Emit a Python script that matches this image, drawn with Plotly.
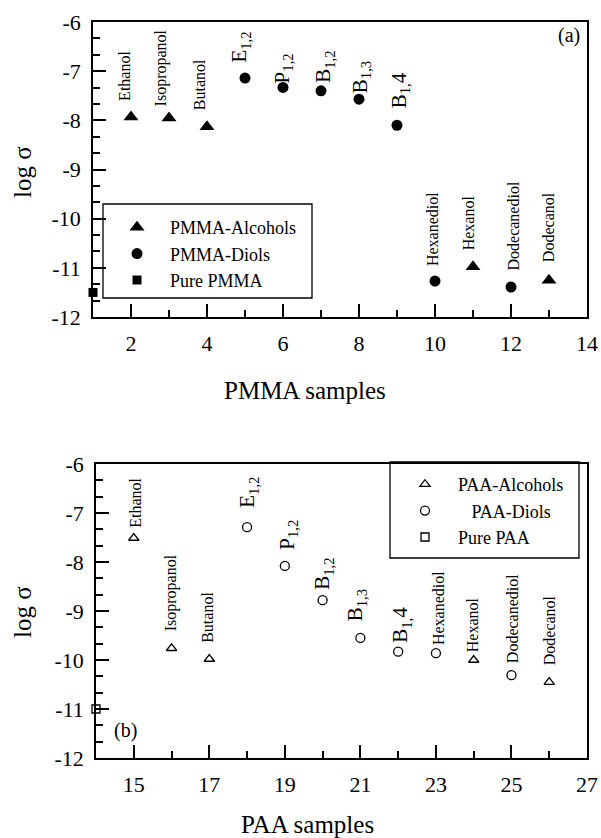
import plotly.graph_objects as go

# ---------------- data ----------------
PMMA_ALC_X = [2, 3, 4, 11, 13]
PMMA_ALC_Y = [-7.93, -7.95, -8.13, -10.98, -11.25]
PMMA_DIOL_X = [5, 6, 7, 8, 9, 10, 12]
PMMA_DIOL_Y = [-7.14, -7.33, -7.40, -7.57, -8.10, -11.27, -11.39]
PURE_PMMA_X = [1]
PURE_PMMA_Y = [-11.5]

PAA_ALC_X = [15, 16, 17, 24, 26]
PAA_ALC_Y = [-7.51, -9.76, -9.98, -10.0, -10.45]
PAA_DIOL_X = [18, 19, 20, 21, 22, 23, 25]
PAA_DIOL_Y = [-7.29, -8.08, -8.78, -9.55, -9.83, -9.86, -10.31]
PURE_PAA_X = [14]
PURE_PAA_Y = [-11.0]

PMMA_LABEL_X = [2, 3, 4, 5, 6, 7, 8, 9, 10, 11, 12, 13]
PAA_LABEL_X = [15, 16, 17, 18, 19, 20, 21, 22, 23, 24, 25, 26]
SAMPLE_NAMES = ["Ethanol", "Isopropanol", "Butanol", "E<sub>1,2</sub>", "P<sub>1,2</sub>",
                "B<sub>1,2</sub>", "B<sub>1,3</sub>", "B<sub>1,</sub>4", "Hexanediol",
                "Hexanol", "Dodecanediol", "Dodecanol"]

Y_TICKVALS = [-12, -11, -10, -9, -8, -7, -6]
Y_TICKTEXT = ["-12", "-11", "-10", "-9", "-8", "-7", "-6"]

# ---------------- styles ----------------
SERIF = "Liberation Serif, Times New Roman, serif"
TOP_DX = [-6, -8, -8, -5, 0, 3, 2, 3, -3, -5, 3, -1]
TOP_GAP = [14, 9, 14, 13, 2, 6, 4, 15, 13, 14, 14, 16]
BOT_DX = [2, -1, -2, 1, 3, 1, -4, 3, 2, -1, 1, 0]
BOT_GAP = [8, 15, 14, 17, 14, 8, 15, 7, 6, 6, 10, 15]

W, H = 601, 838
def px(x):
    return x / W
def py(y):
    return 1 - y / H

fig = go.Figure()

# top panel traces
fig.add_trace(go.Scatter(x=PMMA_ALC_X, y=PMMA_ALC_Y, mode="markers", name="PMMA-Alcohols",
                         marker=dict(symbol="triangle-up", size=13, color="black"),
                         xaxis="x", yaxis="y", legend="legend", cliponaxis=False))
fig.add_trace(go.Scatter(x=PMMA_DIOL_X, y=PMMA_DIOL_Y, mode="markers", name="PMMA-Diols",
                         marker=dict(symbol="circle", size=11, color="black"),
                         xaxis="x", yaxis="y", legend="legend", cliponaxis=False))
fig.add_trace(go.Scatter(x=PURE_PMMA_X, y=PURE_PMMA_Y, mode="markers", name="Pure PMMA",
                         marker=dict(symbol="square", size=9, color="black"),
                         xaxis="x", yaxis="y", legend="legend", cliponaxis=False))

# bottom panel traces
fig.add_trace(go.Scatter(x=PAA_ALC_X, y=PAA_ALC_Y, mode="markers", name="PAA-Alcohols",
                         marker=dict(symbol="triangle-up-open", size=9, color="black",
                                     line=dict(width=1.3, color="black")),
                         xaxis="x2", yaxis="y2", legend="legend2", cliponaxis=False))
fig.add_trace(go.Scatter(x=PAA_DIOL_X, y=PAA_DIOL_Y, mode="markers",
                         name="\u00a0\u00a0\u00a0PAA-Diols",
                         marker=dict(symbol="circle-open", size=9, color="black",
                                     line=dict(width=1.3, color="black")),
                         xaxis="x2", yaxis="y2", legend="legend2", cliponaxis=False))
fig.add_trace(go.Scatter(x=PURE_PAA_X, y=PURE_PAA_Y, mode="markers", name="Pure PAA",
                         marker=dict(symbol="square-open", size=8, color="black",
                                     line=dict(width=1.3, color="black")),
                         xaxis="x2", yaxis="y2", legend="legend2", cliponaxis=False))

# label annotations
def lookup(xs_list, ys_list, x):
    for xs, ys in zip(xs_list, ys_list):
        if x in xs:
            return ys[xs.index(x)]
    return None

annotations = []
for i, (x, name) in enumerate(zip(PMMA_LABEL_X, SAMPLE_NAMES)):
    y = lookup([PMMA_ALC_X, PMMA_DIOL_X], [PMMA_ALC_Y, PMMA_DIOL_Y], x)
    big = "<sub>" in name
    annotations.append(dict(x=x, y=y, xref="x", yref="y", text=name, showarrow=False,
                            textangle=-90, xanchor="center", yanchor="bottom",
                            xshift=TOP_DX[i], yshift=TOP_GAP[i],
                            font=dict(family=SERIF, size=21 if big else 16, color="black")))
for i, (x, name) in enumerate(zip(PAA_LABEL_X, SAMPLE_NAMES)):
    y = lookup([PAA_ALC_X, PAA_DIOL_X], [PAA_ALC_Y, PAA_DIOL_Y], x)
    big = "<sub>" in name
    annotations.append(dict(x=x, y=y, xref="x2", yref="y2", text=name, showarrow=False,
                            textangle=-90, xanchor="center", yanchor="bottom",
                            xshift=BOT_DX[i], yshift=BOT_GAP[i],
                            font=dict(family=SERIF, size=21 if big else 16, color="black")))

# panel tags and axis titles
def paper_text(x, y, text, size, angle=0):
    return dict(x=px(x), y=py(y), xref="paper", yref="paper", text=text, showarrow=False,
                xanchor="center", yanchor="middle", textangle=angle,
                font=dict(family=SERIF, size=size, color="black"))

annotations += [
    paper_text(569, 35, "(a)", 20),
    paper_text(125, 730, "(b)", 20),
    paper_text(22, 172, "log σ", 25, -90),
    paper_text(22, 612, "log σ", 25, -90),
    paper_text(305, 390, "PMMA samples", 25),
    paper_text(307, 824, "PAA samples", 25),
]

# legend boxes
shapes = [
    dict(type="rect", xref="paper", yref="paper", x0=px(103), x1=px(312), y0=py(298), y1=py(204),
         line=dict(color="black", width=1.3)),
    dict(type="rect", xref="paper", yref="paper", x0=px(390), x1=px(579), y0=py(558), y1=py(462),
         line=dict(color="black", width=1.3)),
]

tickfont = dict(family=SERIF, size=22, color="black")
def xaxis(domain, rng, tick0, anchor):
    return dict(domain=domain, range=rng, anchor=anchor, tick0=tick0, dtick=2,
                showline=True, linecolor="black", linewidth=1.5, mirror=True,
                ticks="inside", ticklen=13, tickwidth=1.5, tickcolor="black",
                minor=dict(dtick=1, tick0=tick0, ticks="inside", ticklen=7, tickwidth=1.5,
                           tickcolor="black", showgrid=False),
                showgrid=False, zeroline=False, tickfont=tickfont, ticklabelstandoff=6,
                automargin=False)
def yaxis(domain, anchor):
    return dict(domain=domain, range=[-12, -6], anchor=anchor, tickvals=Y_TICKVALS,
                ticktext=Y_TICKTEXT,
                showline=True, linecolor="black", linewidth=1.5, mirror=True,
                ticks="inside", ticklen=13, tickwidth=1.5, tickcolor="black",
                minor=dict(dtick=1/3, tick0=-12, ticks="inside", ticklen=7, tickwidth=1.5,
                           tickcolor="black", showgrid=False),
                showgrid=False, zeroline=False, tickfont=tickfont, ticklabelstandoff=6,
                automargin=False)

legend_common = dict(font=dict(family=SERIF, size=18, color="black"), bgcolor="rgba(0,0,0,0)",
                     borderwidth=0, itemwidth=56, xanchor="left", yanchor="top",
                     tracegroupgap=0)

fig.update_layout(
    width=W, height=H, autosize=False,
    margin=dict(l=0, r=0, t=0, b=0, pad=0, autoexpand=False),
    paper_bgcolor="white", plot_bgcolor="white",
    xaxis=xaxis([px(93), px(587)], [1, 14], 2, "y"),
    yaxis=yaxis([py(317), py(22)], "x"),
    xaxis2=xaxis([px(96), px(587)], [14, 27], 15, "y2"),
    yaxis2=yaxis([py(758), py(464)], "x2"),
    legend=dict(x=px(104), y=py(209), **legend_common),
    legend2=dict(x=px(392), y=py(466), **legend_common),
    annotations=annotations,
    shapes=shapes,
    showlegend=True,
)

POST = ("document.documentElement.style.margin='0';document.documentElement.style.padding='0';"
        "document.documentElement.style.overflow='hidden';"
        "document.body.style.margin='0';document.body.style.padding='0';"
        "document.body.style.overflow='hidden';")
fig.write_html("out.html", config={"displayModeBar": False}, post_script=POST)
